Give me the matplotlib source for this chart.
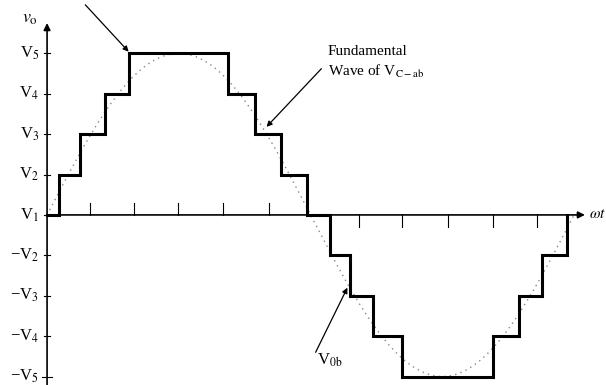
import matplotlib.pyplot as plt
import numpy as np

plt.rcParams['font.family'] = ['Liberation Serif', 'DejaVu Serif']
plt.rcParams['mathtext.fontset'] = 'stix'

# switching angles (deg) and staircase levels (in units of one step)
switch_angles = [0, 8, 23, 40, 57, 125, 144, 162, 180,
                 196, 210, 226, 246, 309, 327, 343, 360]
step_levels = [0, 1, 2, 3, 4, 3, 2, 1, 0,
               -1, -2, -3, -4, -3, -2, -1, 0]

level_values = [4, 3, 2, 1, 0, -1, -2, -3, -4]
level_labels = ['V$_5$', 'V$_4$', 'V$_3$', 'V$_2$', 'V$_1$',
                '\u2212V$_2$', '\u2212V$_3$', '\u2212V$_4$', '\u2212V$_5$']

up_ticks = [30, 60, 91, 122, 154]
down_ticks = [216, 246, 278, 309, 339]

fund_amp = 4
fund_period = 365

fig = plt.figure(figsize=(6.06, 3.85), dpi=100)
ax = fig.add_axes([0, 0, 1, 1])
ax.set_xlim(-32.6, 387.1)
ax.set_ylim(-4.21, 5.32)
ax.axis('off')

# fundamental wave, dotted
wt = np.linspace(0, fund_period, 400)
ax.plot(wt, fund_amp * np.sin(2 * np.pi * wt / fund_period), color='#888888',
        lw=1, linestyle=(0, (1, 3)))

# stepped output voltage
ax.plot(switch_angles, step_levels, drawstyle='steps-post', color='black',
        lw=2.2, solid_joinstyle='miter')

# axes with arrows
ax.annotate('', xy=(0, 4.75), xytext=(0, -4.21),
            arrowprops=dict(arrowstyle='-|>', color='black', lw=1.2,
                            mutation_scale=10, shrinkA=0, shrinkB=0))
ax.annotate('', xy=(372.5, 0), xytext=(0, 0),
            arrowprops=dict(arrowstyle='-|>', color='black', lw=1.2,
                            mutation_scale=10, shrinkA=0, shrinkB=0))

for v, lab in zip(level_values, level_labels):
    w = 3.5 if v == -4 else 2
    ax.plot([-w, w], [v, v], color='black', lw=0.8)
    ax.text(-5.5, v, lab, ha='right', va='center', fontsize=12)

for t in up_ticks:
    ax.plot([t, t], [0, 0.3], color='black', lw=0.8)
for t in down_ticks:
    ax.plot([t, t], [0, -0.3], color='black', lw=0.8)

ax.text(-12, 4.85, r'$v_\mathrm{o}$', ha='center', va='center', fontsize=13)
ax.text(375, 0, r'$\omega t$', ha='left', va='center', fontsize=11)

# annotations
ax.annotate('', xy=(56.5, 4.04), xytext=(26.5, 5.2),
            arrowprops=dict(arrowstyle='-|>', color='black', lw=0.9,
                            mutation_scale=8, shrinkA=0, shrinkB=0))
ax.text(194.5, 4.05, 'Fundamental', ha='left', va='center', fontsize=11)
ax.text(194.5, 3.55, 'Wave of V$_\\mathrm{C-ab}$', ha='left', va='center', fontsize=11)
ax.annotate('', xy=(152, 2.18), xytext=(190, 3.62),
            arrowprops=dict(arrowstyle='-|>', color='black', lw=0.9,
                            mutation_scale=8, shrinkA=0, shrinkB=0))
ax.text(196, -3.6, 'V$_\\mathrm{0b}$', ha='center', va='center', fontsize=12)
ax.annotate('', xy=(208, -1.8), xytext=(186, -3.4),
            arrowprops=dict(arrowstyle='-|>', color='black', lw=0.9,
                            mutation_scale=8, shrinkA=0, shrinkB=0))

plt.savefig('out.png', dpi=100)
